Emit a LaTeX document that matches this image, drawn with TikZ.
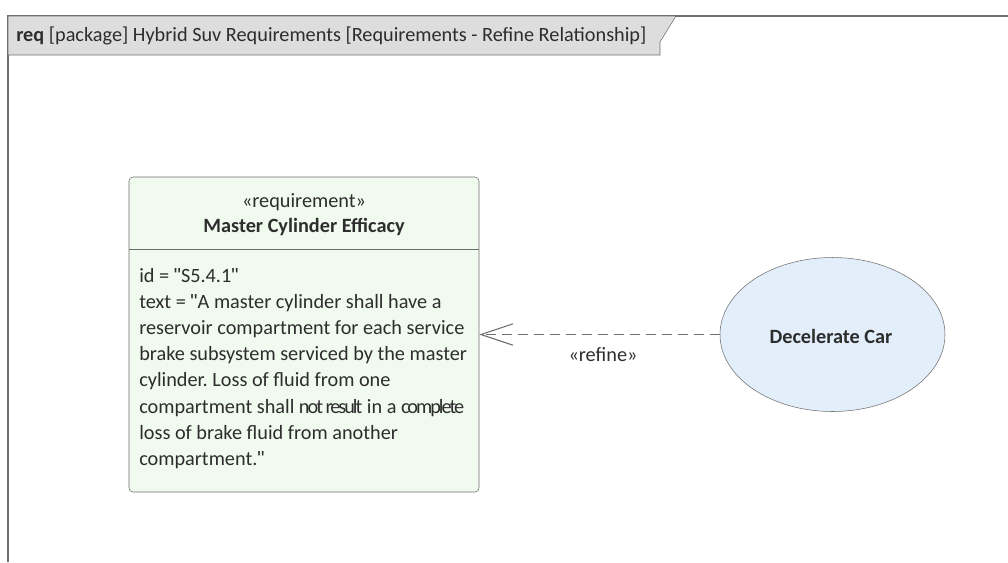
\documentclass[tikz,border=0pt]{standalone}
\usepackage{fontspec}
\setmainfont{Carlito}
\newfontfamily\quotefont{Liberation Sans}
\usetikzlibrary{shapes.geometric,arrows.meta}
\definecolor{framegray}{RGB}{110,110,110}
\definecolor{tabgray}{RGB}{221,221,221}
\definecolor{reqgreen}{RGB}{240,250,238}
\definecolor{ucblue}{RGB}{227,238,251}
\definecolor{txtgray}{RGB}{45,45,45}
\newcommand{\qt}{{\quotefont\symbol{34}}}
\frenchspacing
\tikzset{
	reqbox/.style={draw=framegray, fill=reqgreen, rounded corners=3pt, minimum width=262.5pt, minimum height=236.25pt, inner sep=0pt},
	usecase/.style={ellipse, draw=framegray, fill=ucblue, minimum width=168.75pt, minimum height=115.5pt, inner sep=0pt},
	refine/.style={dash pattern=on 7.5pt off 4.5pt, draw=framegray, line width=1.1pt, -{Straight Barb[length=24pt, width=16pt, line width=0.8pt]}},
	lbl/.style={font=\fontsize{15.2}{17}\selectfont, text=txtgray, inner sep=0pt},
}
\begin{document}
\begin{tikzpicture}[x=0.75pt, y=-0.75pt]
	\useasboundingbox (0,0) rectangle (1008,562);
	% frame and header tab
	\draw[framegray, thick] (8,562) -- (8,16) -- (1008,16);
	\draw[framegray, fill=tabgray] (8,16) -- (676,16) -- (660,42) -- (660,55) -- (8,55) -- cycle;
	\node[lbl, anchor=base west] (title) at (16,41) {\textbf{req} [package] Hybrid Suv Requirements [Requirements - Refine Relationship]};
	% requirement
	\node[reqbox] (req) at (304,334.5) {};
	\draw[framegray] (129,249.5) -- (479,249.5);
	\node[lbl] (stereo) at (304,202) {«requirement»};
	\node[lbl, font=\fontsize{15.2}{17}\selectfont\bfseries] (name) at (304,227) {Master Cylinder Efficacy};
	\node[lbl, anchor=north west, align=left, font=\fontsize{15.2}{19.6}\selectfont] (body) at (139,268) {id = \qt S5.4.1\qt\\
		text = \qt A master cylinder shall have a\\
		reservoir compartment for each service\\
		brake subsystem serviced by the master\\
		cylinder. Loss of fluid from one\\
		compartment shall {\addfontfeature{LetterSpace=-10}not result} in a {\addfontfeature{LetterSpace=-10}complete}\\
		loss of brake fluid from another\\
		compartment.\qt};
	% use case
	\node[usecase] (dec) at (832.5,334.5) {};
	\node[lbl, font=\fontsize{15.2}{17}\selectfont\bfseries] (decname) at (831,336) {Decelerate Car};
	% refine dependency
	\draw[refine] (dec.west) -- (req.east);
	\node[lbl] (reflbl) at (603,355) {«refine»};
\end{tikzpicture}
\end{document}
